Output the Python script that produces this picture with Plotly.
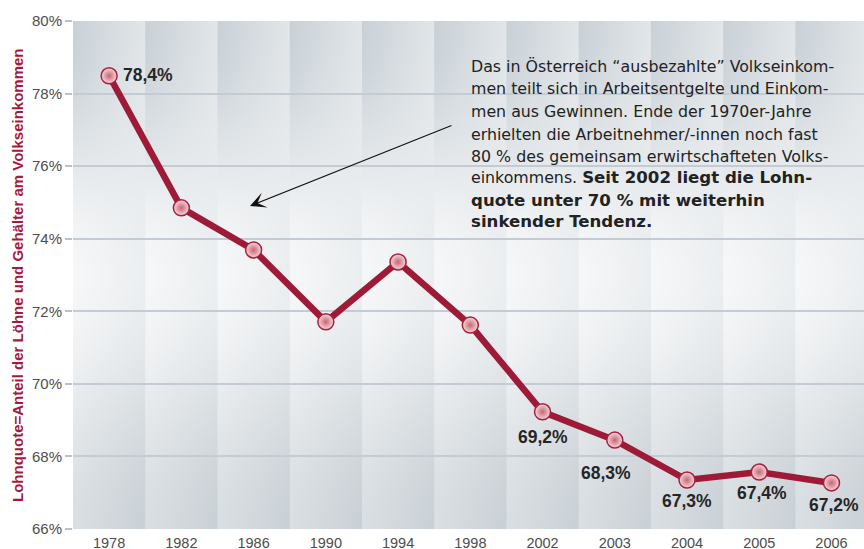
import base64
import struct
import zlib

import numpy as np
import plotly.graph_objects as go

# ---------------- data ----------------
years = ["1978", "1982", "1986", "1990", "1994", "1998", "2002", "2003", "2004", "2005", "2006"]
lohnquote = [78.49, 74.85, 73.69, 71.71, 73.36, 71.62, 69.23, 68.45, 67.35, 67.57, 67.27]
point_labels = ["78,4%", "", "", "", "", "", "69,2%", "68,3%", "67,3%", "67,4%", "67,2%"]
y_ticks = [66, 68, 70, 72, 74, 76, 78, 80]
y_ticktext = [f"{v}%" for v in y_ticks]

y_title = "Lohnquote=Anteil der Löhne und Gehälter am Volkseinkommen"
note_lines = [
    "Das in Österreich “ausbezahlte” Volkseinkom-",
    "men teilt sich in Arbeitsentgelte und Einkom-",
    "men aus Gewinnen. Ende der 1970er-Jahre",
    "erhielten die Arbeitnehmer/-innen noch fast",
    "80 % des gemeinsam erwirtschafteten Volks-",
    "einkommens. <b><span style='font-size:16.6px'>Seit 2002 liegt die Lohn-</span></b>",
    "<b><span style='font-size:16.6px'>quote unter 70 % mit weiterhin</span></b>",
    "<b><span style='font-size:16.6px'>sinkender Tendenz.</span></b>",
]

# ---------------- style ----------------
W, H = 864, 549
ML, MR, MT, MB = 73, 0, 21, 20
PW, PH = W - ML - MR, H - MT - MB
LINE_COLOR = "#9e1b37"
TITLE_COLOR = "#a31a3c"
GRID_COLOR = "#c3ccd4"
label_offsets = [(12, 1, "left"), None, None, None, None, None,
                 (0, -25, "center"), (-9, -33, "center"), (0, -21, "center"),
                 (3, -21, "center"), (3, -22, "center")]


# ---------------- decorative background (column panels with gradients) ----------------
def hex_rgb(h):
    h = h.lstrip("#")
    return np.array([int(h[i:i + 2], 16) for i in (0, 2, 4)], dtype=float)


def make_background_png(ncols, colw, height):
    width = ncols * colw
    u = (np.arange(width) % colw) / (colw - 1)          # 0..1 within each column
    v = np.arange(height) / (height - 1)                 # 0 top .. 1 bottom
    U = u[None, :, None]
    top = hex_rgb("#c9d1d7") * (1 - U) + hex_rgb("#e2e6e9") * U
    mid = hex_rgb("#f6f7f8") * (1 - U) + hex_rgb("#ebeef0") * U
    bot = hex_rgb("#dadfe3") * (1 - U) + hex_rgb("#cad1d6") * U
    V = v[:, None, None]
    t1 = np.clip(V / 0.5, 0, 1)
    t1 = t1 * t1 * (3 - 2 * t1)
    t2 = np.clip((V - 0.5) / 0.5, 0, 1)
    t2 = t2 * t2 * (3 - 2 * t2)
    img = np.where(V <= 0.5, top * (1 - t1) + mid * t1, mid * (1 - t2) + bot * t2)
    img = np.clip(np.round(img), 0, 255).astype(np.uint8)

    a = img.reshape(height, width * 3).astype(np.int16)
    sub = a.copy()
    sub[:, 3:] = (a[:, 3:] - a[:, :-3]) % 256
    raw = np.concatenate([np.ones((height, 1), dtype=np.int16), sub], axis=1).astype(np.uint8).tobytes()

    def chunk(tag, data):
        c = struct.pack(">I", len(data)) + tag + data
        return c + struct.pack(">I", zlib.crc32(tag + data) & 0xFFFFFFFF)

    png = b"\x89PNG\r\n\x1a\n"
    png += chunk(b"IHDR", struct.pack(">IIBBBBB", width, height, 8, 2, 0, 0, 0))
    png += chunk(b"IDAT", zlib.compress(raw, 9))
    png += chunk(b"IEND", b"")
    return "data:image/png;base64," + base64.b64encode(png).decode()


bg_src = make_background_png(len(years), 72, PH)

# ---------------- figure ----------------
xs = list(range(len(years)))
fig = go.Figure()
fig.add_trace(go.Scatter(
    x=xs, y=lohnquote, mode="lines+markers",
    line=dict(color=LINE_COLOR, width=6.5),
    marker=dict(size=16, color="#f6d8db",
                gradient=dict(type="radial", color="#c86573"),
                line=dict(color="#a5213f", width=1.5)),
    hoverinfo="skip",
))

fig.add_layout_image(dict(
    source=bg_src, xref="x", yref="y",
    x=-0.5, y=y_ticks[-1], sizex=len(years), sizey=y_ticks[-1] - y_ticks[0],
    sizing="stretch", layer="below", xanchor="left", yanchor="top",
))

annotations = []
for i, (lab, off) in enumerate(zip(point_labels, label_offsets)):
    if not lab:
        continue
    dx, dy, anchor = off
    annotations.append(dict(
        x=xs[i], y=lohnquote[i], text=lab, showarrow=False,
        xanchor=anchor, yanchor="middle", xshift=dx, yshift=dy,
        font=dict(family="Liberation Sans, Arial", size=17.5, color="#262626", weight="bold"),
    ))

# explanatory note
line_centers_px = [67, 89, 111.5, 134, 156, 177.5, 200, 222]
for txt, ypx in zip(note_lines, line_centers_px):
    annotations.append(dict(
        xref="paper", yref="paper",
        x=(469 - ML) / PW, y=(MT + PH - ypx) / PH,
        text=txt, showarrow=False, xanchor="left", yanchor="middle",
        font=dict(family="DejaVu Sans", size=15.8, color="#222222"),
    ))

# arrow
tip_x, tip_y, tail_x, tail_y = 250, 206, 453, 125
annotations.append(dict(
    xref="paper", yref="paper",
    x=(tip_x - ML) / PW, y=(MT + PH - tip_y) / PH,
    ax=tail_x - tip_x, ay=tail_y - tip_y, text="",
    showarrow=True, arrowhead=3, arrowsize=2.4, arrowwidth=1.1, arrowcolor="#111111",
))

# y-axis title
annotations.append(dict(
    xref="paper", yref="paper", x=0, y=0.5, xshift=-56,
    text=y_title, textangle=-90, showarrow=False,
    xanchor="center", yanchor="middle",
    font=dict(family="Liberation Sans, Arial", size=15, color=TITLE_COLOR, weight="bold"),
))

fig.update_layout(
    width=W, height=H,
    margin=dict(l=ML, r=MR, t=MT, b=MB, pad=0, autoexpand=False),
    paper_bgcolor="white", plot_bgcolor="#e6eaed",
    showlegend=False,
    annotations=annotations,
    xaxis=dict(
        range=[-0.5, 10.45], tickvals=xs, ticktext=years,
        showgrid=False, zeroline=False, showline=False, ticks="",
        ticklabelstandoff=3, automargin=False,
        tickfont=dict(family="Liberation Sans, Arial", size=14.5, color="#4d4d4d"),
        fixedrange=True,
    ),
    yaxis=dict(
        range=[y_ticks[0], y_ticks[-1]], tickvals=y_ticks, ticktext=y_ticktext,
        showgrid=True, gridcolor=GRID_COLOR, gridwidth=2,
        zeroline=False, showline=False, automargin=False,
        ticks="outside", ticklen=7, tickwidth=2, tickcolor="#b9c3cb",
        tickfont=dict(family="Liberation Sans, Arial", size=15, color="#4d4d4d"),
        fixedrange=True,
    ),
)

fig.write_html(
    "out.html",
    config={"displayModeBar": False},
    post_script="document.body.style.margin='0';document.body.style.overflow='hidden';",
)
